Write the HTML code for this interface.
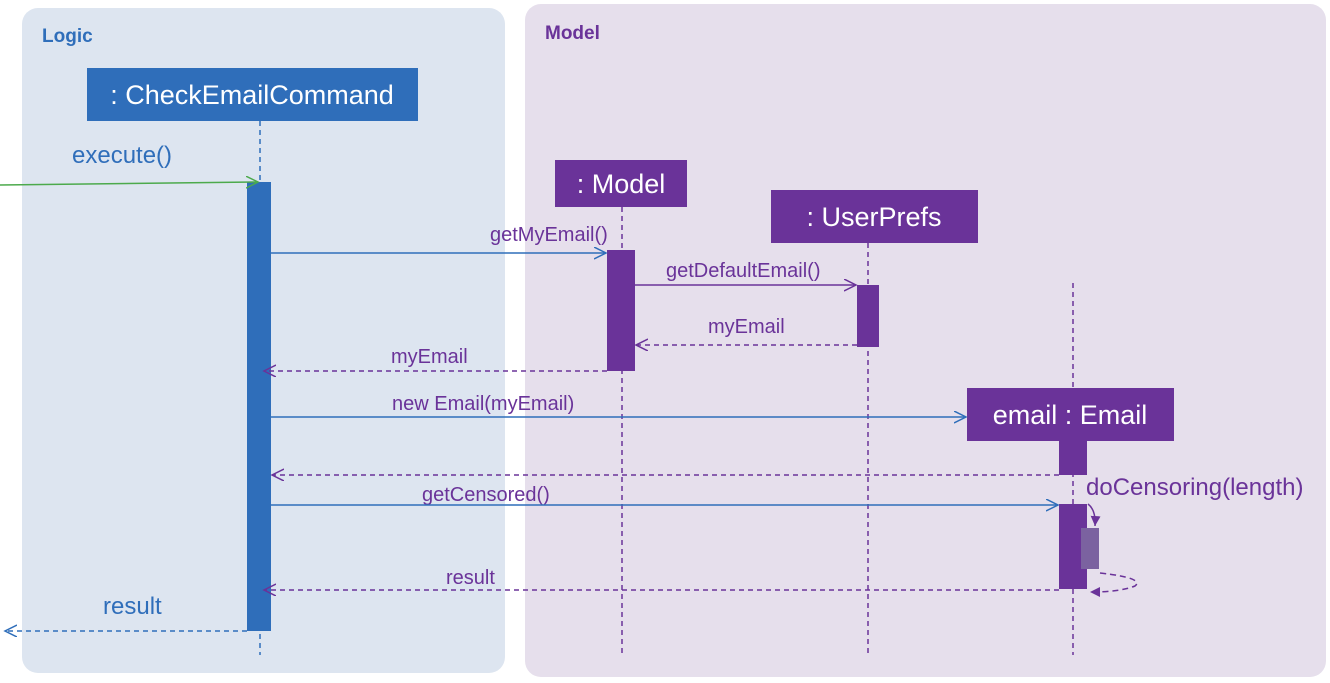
<!DOCTYPE html>
<html><head><meta charset="utf-8"><style>
html,body{margin:0;padding:0;background:#fff;}
svg text{font-family:"Liberation Sans",sans-serif;}
</style></head><body>
<svg width="1330" height="678" viewBox="0 0 1330 678" xmlns="http://www.w3.org/2000/svg">
<defs>
<marker id="ob" markerWidth="14" markerHeight="14" refX="12" refY="6" orient="auto" markerUnits="userSpaceOnUse"><path d="M0,0 L12,6 L0,12" fill="none" stroke="#2f6eba" stroke-width="1.5"/></marker>
<marker id="og" markerWidth="14" markerHeight="14" refX="12" refY="6" orient="auto" markerUnits="userSpaceOnUse"><path d="M0,0 L12,6 L0,12" fill="none" stroke="#4caa4c" stroke-width="1.5"/></marker>
<marker id="op" markerWidth="14" markerHeight="14" refX="12" refY="6" orient="auto" markerUnits="userSpaceOnUse"><path d="M0,0 L12,6 L0,12" fill="none" stroke="#6a3399" stroke-width="1.5"/></marker>
<marker id="fp" markerWidth="12" markerHeight="12" refX="10" refY="5" orient="auto" markerUnits="userSpaceOnUse"><path d="M0,0 L10,5 L0,10 Z" fill="#6a3399"/></marker>
</defs>
<rect x="22" y="8" width="483" height="665" rx="16" fill="#dde5f0"/>
<rect x="525" y="4" width="801" height="673" rx="16" fill="#e6dfec"/>
<text x="42" y="42" font-size="19" font-weight="bold" fill="#2f6eba">Logic</text>
<text x="545" y="39" font-size="19" font-weight="bold" fill="#6a3399">Model</text>

<g stroke-dasharray="5,4" stroke-width="1.5">
<line x1="260" y1="121" x2="260" y2="655" stroke="#2f6eba"/>
<line x1="622" y1="207" x2="622" y2="655" stroke="#6a3399"/>
<line x1="868" y1="243" x2="868" y2="655" stroke="#6a3399"/>
<line x1="1073" y1="283" x2="1073" y2="655" stroke="#6a3399"/>
</g>

<rect x="87" y="68" width="331" height="53" fill="#2f6eba"/>
<text x="252" y="104" font-size="27" fill="#fff" text-anchor="middle">: CheckEmailCommand</text>
<rect x="555" y="160" width="132" height="47" fill="#6a3399"/>
<text x="621" y="193" font-size="27" fill="#fff" text-anchor="middle">: Model</text>
<rect x="771" y="190" width="207" height="53" fill="#6a3399"/>
<text x="874" y="226" font-size="27" fill="#fff" text-anchor="middle">: UserPrefs</text>
<rect x="967" y="388" width="207" height="53" fill="#6a3399"/>
<text x="1070" y="424" font-size="27" fill="#fff" text-anchor="middle">email : Email</text>

<rect x="247" y="182" width="24" height="449" fill="#2f6eba"/>
<rect x="607" y="250" width="28" height="121" fill="#6a3399"/>
<rect x="857" y="285" width="22" height="62" fill="#6a3399"/>
<rect x="1059" y="441" width="28" height="34" fill="#6a3399"/>
<rect x="1059" y="504" width="28" height="85" fill="#6a3399"/>
<rect x="1081" y="528" width="18" height="41" fill="#7b62a0"/>

<text x="72" y="163" font-size="24" fill="#2f6eba">execute()</text>
<line x1="0" y1="185" x2="258" y2="182" stroke="#4caa4c" stroke-width="1.5" marker-end="url(#og)"/>

<text x="490" y="241" font-size="20" fill="#6a3399">getMyEmail()</text>
<line x1="271" y1="253" x2="606" y2="253" stroke="#2f6eba" stroke-width="1.5" marker-end="url(#ob)"/>

<text x="666" y="277" font-size="20" fill="#6a3399">getDefaultEmail()</text>
<line x1="635" y1="285" x2="856" y2="285" stroke="#6a3399" stroke-width="1.5" marker-end="url(#op)"/>

<text x="708" y="333" font-size="20" fill="#6a3399">myEmail</text>
<line x1="857" y1="345" x2="636" y2="345" stroke="#6a3399" stroke-width="1.5" stroke-dasharray="5,4" marker-end="url(#op)"/>

<text x="391" y="363" font-size="20" fill="#6a3399">myEmail</text>
<line x1="607" y1="371" x2="264" y2="371" stroke="#6a3399" stroke-width="1.5" stroke-dasharray="5,4" marker-end="url(#op)"/>

<text x="392" y="410" font-size="20" fill="#6a3399">new Email(myEmail)</text>
<line x1="271" y1="417" x2="966" y2="417" stroke="#2f6eba" stroke-width="1.5" marker-end="url(#ob)"/>

<line x1="1059" y1="475" x2="272" y2="475" stroke="#6a3399" stroke-width="1.5" stroke-dasharray="5,4" marker-end="url(#op)"/>

<text x="422" y="501" font-size="20" fill="#6a3399">getCensored()</text>
<line x1="271" y1="505" x2="1058" y2="505" stroke="#2f6eba" stroke-width="1.5" marker-end="url(#ob)"/>

<text x="1086" y="495" font-size="24" fill="#6a3399">doCensoring(length)</text>
<path d="M1088,504 Q1096,510 1095,526" fill="none" stroke="#6a3399" stroke-width="1.5" marker-end="url(#fp)"/>
<path d="M1100,573 Q1145,578 1135,586 Q1120,592 1090,592" fill="none" stroke="#6a3399" stroke-width="1.5" stroke-dasharray="6,4" marker-end="url(#fp)"/>

<text x="446" y="584" font-size="20" fill="#6a3399">result</text>
<line x1="1059" y1="590" x2="264" y2="590" stroke="#6a3399" stroke-width="1.5" stroke-dasharray="5,4" marker-end="url(#op)"/>

<text x="103" y="614" font-size="24" fill="#2f6eba">result</text>
<line x1="247" y1="631" x2="5" y2="631" stroke="#2f6eba" stroke-width="1.5" stroke-dasharray="5,4" marker-end="url(#ob)"/>
</svg>
</body></html>
